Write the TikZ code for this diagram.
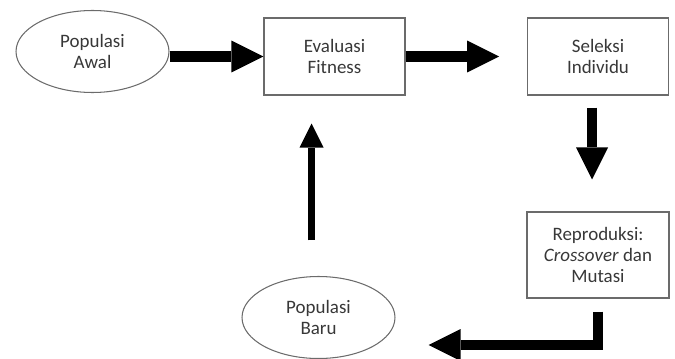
\documentclass[tikz,border=0pt]{standalone}
\usepackage{fontspec}
\setmainfont{Carlito}
\usetikzlibrary{arrows.meta,shapes.geometric}
\definecolor{abutepi}{rgb}{0.42,0.42,0.42}
\definecolor{teksabu}{rgb}{0.22,0.22,0.22}
\tikzset{
  elips/.style={
    ellipse,
    draw=abutepi,
    text=teksabu,
    line width=0.6pt,
    minimum width=3.06cm,
    minimum height=1.64cm,
    inner sep=0pt,
    align=center,
    font=\fontsize{10.8}{12}\selectfont
  },
  kotak/.style={
    rectangle,
    draw=abutepi,
    text=teksabu,
    line width=0.6pt,
    minimum width=2.82cm,
    minimum height=1.54cm,
    inner sep=0pt,
    align=center,
    font=\fontsize{10.8}{12}\selectfont
  },
  panah/.style={
    -{Triangle[length=0.64cm,width=0.64cm,line width=0pt]},
    line width=6pt,
    black
  },
  panahkecil/.style={
    -{Triangle[length=0.48cm,width=0.48cm,line width=0pt]},
    line width=4.5pt,
    black
  }
}

\begin{document}
\begin{tikzpicture}[x=0.02cm, y=-0.02cm]
\useasboundingbox (0,0) rectangle (675,358);
\node[elips] (awal) at (92.5,51.5) {Populasi\\Awal};
\node[kotak] (eval) at (334.5,56.5) {Evaluasi\\Fitness};
\node[kotak] (seleksi) at (598,56.5) {Seleksi\\Individu};
\node[kotak, minimum width=2.84cm, minimum height=1.72cm] (repro) at (598,255) {Reproduksi:\\\textit{Crossover} dan\\Mutasi};
\node[elips] (baru) at (318.5,317.5) {Populasi\\Baru};
% alur utama
\draw[panah] (awal.east |- eval.west) -- (eval.west);
\draw[panah, shorten >=0.56cm] (eval.east) -- (seleksi.west);
\draw[panah, shorten <=0.24cm, shorten >=0.64cm] ([xshift=-0.12cm]seleksi.south) -- ([xshift=-0.12cm]repro.north);
\draw[panah, shorten <=0.26cm] (repro.south) |- ([xshift=0.66cm,yshift=-0.55cm]baru.east);
\draw[panahkecil, shorten <=0.71cm, shorten >=0.56cm] ([xshift=-0.14cm]baru.north) -- ([xshift=-0.14cm]baru.north |- eval.south);
\end{tikzpicture}
\end{document}
